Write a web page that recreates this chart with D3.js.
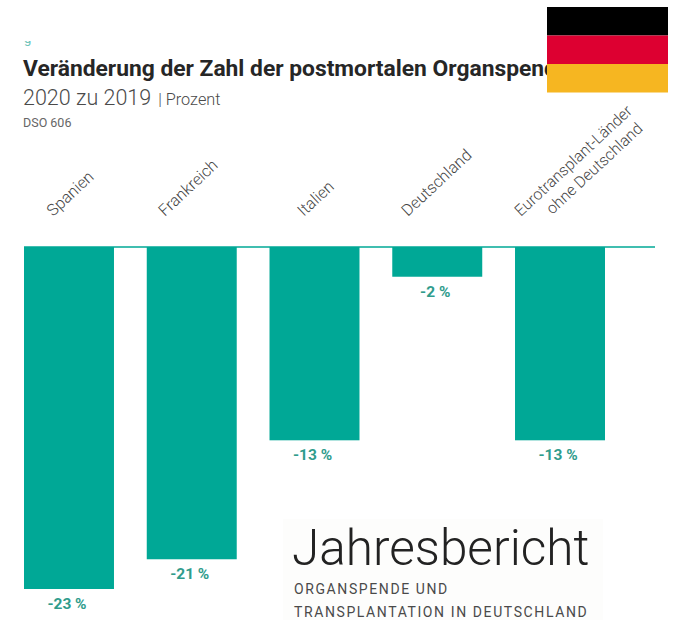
<!DOCTYPE html>
<html lang="de">
<head>
  <meta charset="UTF-8">
  <title>Veränderung der Zahl der postmortalen Organspender</title>
  <style>
    html, body {
      margin: 0;
      overflow: hidden;
      background: white;
    }
    svg {
      display: block;
      font-family: Roboto, sans-serif;
    }
  </style>
</head>
<body>
  <svg width="682" height="620"></svg>
  <script src="https://d3js.org/d3.v7.min.js"></script>
  <script>
    const countries = ['Spanien', 'Frankreich', 'Italien', 'Deutschland', 'Eurotransplant-Länder|ohne Deutschland']
    const changes = [-23, -21, -13, -2, -13]
    const flagStripes = ['#000000', '#dd0031', '#f6b621']
    const reportLines = ['ORGANSPENDE UND', 'TRANSPLANTATION IN DEUTSCHLAND']

    const teal = '#00a896'
    const svg = d3.select('svg')

    const x = d3.scaleBand()
      .domain(countries)
      .range([24, 605])
      .paddingInner(0.267)
      .paddingOuter(0)

    const y = d3.scaleLinear()
      .domain([-23, 0])
      .range([589, 247])

    // titles
    svg.append('text')
      .attr('x', 23)
      .attr('y', 76)
      .attr('font-size', 22.8)
      .attr('font-weight', 700)
      .attr('fill', '#262626')
      .text('Veränderung der Zahl der postmortalen Organspender')

    const sub = svg.append('text')
      .attr('x', 23)
      .attr('y', 105)
      .attr('fill', '#4a4a4a')
    sub.append('tspan').attr('font-size', 21.5).attr('font-weight', 300).text('2020 zu 2019')
    sub.append('tspan').attr('font-size', 16.3).attr('font-weight', 300).attr('dx', 7).text('| Prozent')

    svg.append('text')
      .attr('x', 23)
      .attr('y', 127)
      .attr('font-size', 12.5)
      .attr('fill', '#666')
      .text('DSO 606')

    // leftover of the cropped line above the title
    svg.append('clipPath')
      .attr('id', 'top-crop')
      .append('rect')
      .attr('x', 15)
      .attr('y', 41)
      .attr('width', 20)
      .attr('height', 10)
    svg.append('text')
      .attr('x', 24)
      .attr('y', 43)
      .attr('clip-path', 'url(#top-crop)')
      .attr('font-size', 13)
      .attr('fill', '#6fc4ba')
      .text('g')

    // bars
    svg.selectAll('rect.bar')
      .data(changes)
      .enter()
      .append('rect')
      .attr('class', 'bar')
      .attr('x', (d, i) => x(countries[i]))
      .attr('y', y(0))
      .attr('width', x.bandwidth())
      .attr('height', d => y(d) - y(0))
      .attr('fill', teal)

    // baseline
    svg.append('line')
      .attr('x1', 24)
      .attr('x2', 655)
      .attr('y1', y(0))
      .attr('y2', y(0))
      .attr('stroke', teal)
      .attr('stroke-width', 1.5)

    // value labels
    svg.selectAll('text.value')
      .data(changes)
      .enter()
      .append('text')
      .attr('class', 'value')
      .attr('x', (d, i) => x(countries[i]) + x.bandwidth() / 2 - 2)
      .attr('y', d => y(d) + 20)
      .attr('text-anchor', 'middle')
      .attr('font-size', 15.5)
      .attr('font-weight', 700)
      .attr('fill', '#2f9c8c')
      .text(d => d + ' %')

    // rotated category labels, lower ends sit on one line above the bars
    const angle = 43
    const nudge = [5, 0, 5, 3, 17]
    const axis = svg.append('g')
      .attr('transform', `translate(0,${y(0)})`)
      .call(d3.axisTop(x).tickSize(0).tickFormat(''))
    axis.select('.domain').remove()

    axis.selectAll('.tick').each(function (name, n) {
      const lines = name.split('|')
      const label = d3.select(this).select('text')
        .attr('text-anchor', 'middle')
        .attr('x', 0)
        .attr('y', 0)
        .attr('dy', 0)
        .attr('font-family', 'Roboto, sans-serif')
        .attr('font-size', lines.length > 1 ? 15.8 : 16.2)
        .attr('font-weight', 300)
        .attr('fill', '#444')
      lines.forEach((line, i) => {
        label.append('tspan')
          .attr('x', i ? 10 : 0)
          .attr('dy', i ? 20 : 0)
          .text(line)
      })
      const first = label.select('tspan').node().getComputedTextLength()
      const rise = 30 + first * Math.sin(angle * Math.PI / 180) / 2
      label.attr('transform', `translate(${nudge[n]},${-rise}) rotate(${-angle})`)
    })

    // flag
    const flagY = d3.scaleBand()
      .domain(d3.range(flagStripes.length))
      .range([7, 92.5])
    svg.selectAll('rect.flag')
      .data(flagStripes)
      .enter()
      .append('rect')
      .attr('class', 'flag')
      .attr('x', 547)
      .attr('y', (d, i) => flagY(i))
      .attr('width', 121)
      .attr('height', flagY.bandwidth())
      .attr('fill', d => d)

    // report logo
    svg.append('rect')
      .attr('x', 283)
      .attr('y', 519)
      .attr('width', 320)
      .attr('height', 101)
      .attr('fill', '#fdfdfc')

    svg.append('text')
      .attr('x', 292)
      .attr('y', 565)
      .attr('font-size', 49.5)
      .attr('font-weight', 300)
      .attr('fill', '#222')
      .text('Jahresbericht')

    svg.selectAll('text.report')
      .data(reportLines)
      .enter()
      .append('text')
      .attr('class', 'report')
      .attr('x', 294)
      .attr('y', (d, i) => 594 + i * 23)
      .attr('font-size', 14)
      .attr('letter-spacing', 1.6)
      .attr('fill', '#4a4a4a')
      .text(d => d)
  </script>
</body>
</html>
